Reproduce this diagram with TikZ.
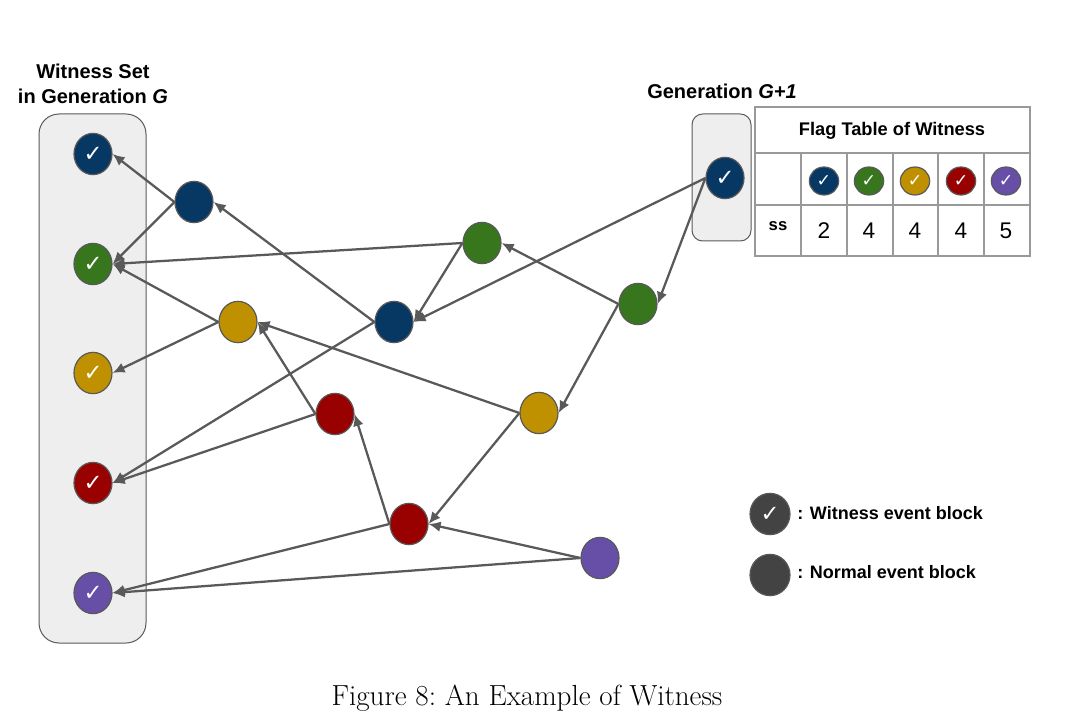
\documentclass[tikz,border=0pt]{standalone}
\usepackage{fontspec}
\usetikzlibrary{arrows.meta,shapes.geometric}
\newfontfamily\labelfont{Liberation Sans}
\newfontfamily\tickfont{DejaVu Sans}
\definecolor{evBlue}{HTML}{073763}
\definecolor{evGreen}{HTML}{38761D}
\definecolor{evGold}{HTML}{BF9000}
\definecolor{evRed}{HTML}{990000}
\definecolor{evPurple}{HTML}{674EA7}
\definecolor{evDark}{HTML}{434343}
\definecolor{evLine}{HTML}{595959}
\definecolor{setFill}{HTML}{EEEEEE}
\definecolor{gridLine}{HTML}{999999}
\newcommand{\ticksign}{\raisebox{-1.6pt}{\char"2713}}
\tikzset{
  evblock/.style={ellipse,draw=evLine,line width=0.9pt,inner sep=0pt,
    minimum width=28.5pt,minimum height=31pt,fill=#1,text=white,
    font=\tickfont\fontsize{17}{17}\selectfont},
  tableblock/.style={evblock=#1,minimum width=22pt,minimum height=21pt,
    font=\tickfont\fontsize{13}{13}\selectfont},
  setbox/.style={draw=evLine,fill=setFill,line width=0.75pt},
  ledge/.style={draw=evLine,line width=1.7pt,-{Latex[length=9pt,width=8pt]}},
  headtext/.style={align=center,inner sep=0pt,font=\labelfont\bfseries\fontsize{15}{18.7}\selectfont},
  keytext/.style={anchor=west,inner sep=0pt,font=\labelfont\bfseries\fontsize{13.5}{16}\selectfont},
  numtext/.style={inner sep=0pt,font=\labelfont\fontsize{17}{17}\selectfont},
  gridrule/.style={draw=gridLine,line width=1.5pt}
}
\begin{document}
\begin{tikzpicture}[x=0.75pt,y=-0.75pt]
  \useasboundingbox (0,0) rectangle (1092,727);
  \draw[setbox,rounded corners=15pt] (39,114) rectangle (146,643);
  \draw[setbox,rounded corners=8pt] (692,114) rectangle (751,241);
  \node[headtext] (setlabel) at (93,83.5) {Witness Set\\in Generation \textit{G}};
  \node[headtext] (genlabel) at (722,91) {Generation \textit{G+1}};
  % flag table
  \draw[gridrule] (755,107) rectangle (1030,256);
  \draw[gridrule] (755,153) -- (1030,153);
  \draw[gridrule] (755,205) -- (1030,205);
  \foreach \x in {801,847,893,938,984}
    \draw[gridrule] (\x,153) -- (\x,256);
  \node[keytext,anchor=center,font=\labelfont\bfseries\fontsize{13.7}{16}\selectfont] (tabletitle) at (892,131) {Flag Table of Witness};
  \node[keytext,anchor=center,font=\labelfont\bfseries\fontsize{12.5}{12.5}\selectfont] (sslabel) at (778,226) {ss};
  \foreach \name/\x/\col/\num in {b/824/evBlue/2,g/869/evGreen/4,y/915/evGold/4,r/961/evRed/4,p/1006/evPurple/5}{
    \node[tableblock=\col] (t\name) at (\x,181) {\ticksign};
    \node[numtext] (n\name) at (\x,231) {\num};
  }
  % witness set and the other blocks
  \foreach \name/\y/\col in {wblue/154/evBlue,wgreen/264/evGreen,wgold/373/evGold,wred/483/evRed,wpurple/593/evPurple}
    \node[evblock=\col] (\name) at (93,\y) {\ticksign};
  \node[evblock=evBlue] (top) at (725,178) {\ticksign};
  \node[evblock=evBlue] (blueA) at (194,202) {};
  \node[evblock=evBlue] (blueB) at (394,322) {};
  \node[evblock=evGreen] (greenA) at (482,243) {};
  \node[evblock=evGreen] (greenB) at (638,304) {};
  \node[evblock=evGold] (goldA) at (238,322) {};
  \node[evblock=evGold] (goldB) at (539,413) {};
  \node[evblock=evRed] (redA) at (335,414) {};
  \node[evblock=evRed] (redB) at (409,524) {};
  \node[evblock=evPurple] (purpleA) at (600,558) {};
  \foreach \from/\to in {blueA/wblue,blueA/wgreen,greenA/wgreen,goldA/wgreen,goldA/wgold,
      blueB/blueA,blueB/wred,greenA/blueB,top/blueB,top/greenB,greenB/greenA,greenB/goldB,
      redA/goldA,redA/wred,goldB/goldA,goldB/redB,redB/redA,redB/wpurple,purpleA/redB,purpleA/wpurple}
    \draw[ledge] (\from.west) -- (\to.east);
  % legend
  \node[evblock=evDark,minimum width=30pt] (keywit) at (770,514) {\ticksign};
  \node[evblock=evDark,minimum width=30pt] (keynorm) at (770,575) {};
  \node[keytext] (keywittext) at (797,513) {: Witness event block};
  \node[keytext] (keynormtext) at (797,572) {: Normal event block};
  \node[inner sep=0pt,font=\fontsize{21.8}{22}\selectfont] (caption) at (527,698) {Figure 8:\ An Example of Witness};
\end{tikzpicture}
\end{document}
